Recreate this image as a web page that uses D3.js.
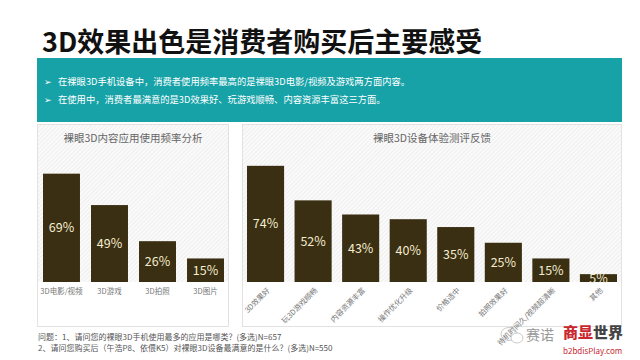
<!DOCTYPE html>
<html><head><meta charset="utf-8">
<script src="https://cdn.jsdelivr.net/npm/d3@7"></script>
<style>body{margin:0;background:#fff}svg{display:block}text{font-family:"Noto Sans CJK SC","Noto Sans",sans-serif}</style>
</head><body>
<svg id="c" width="640" height="360"></svg>
<script>
const title = "3D效果出色是消费者购买后主要感受";
const bullets = ["在裸眼3D手机设备中，消费者使用频率最高的是裸眼3D电影/视频及游戏两方面内容。",
                 "在使用中，消费者最满意的是3D效果好、玩游戏顺畅、内容资源丰富这三方面。"];
const leftTitle = "裸眼3D内容应用使用频率分析";
const leftCats = ["3D电影/视频", "3D游戏", "3D拍照", "3D图片"];
const leftVals = [69, 49, 26, 15];
const rightTitle = "裸眼3D设备体验测评反馈";
const rightCats = ["3D效果好", "玩3D游戏顺畅", "内容资源丰富", "操作优化升级", "价格适中", "拍照效果好", "待机时间久/视频超清晰", "其他"];
const rightVals = [74, 52, 43, 40, 35, 25, 15, 5];
const notes = ["问题：1、请问您的裸眼3D手机使用最多的应用是哪类？(多选)N=657",
               "2、请问您购买后（午浩P8、依偎K5）对裸眼3D设备最满意的是什么？(多选)N=550"];

const svg = d3.select("#c");
const defs = svg.append("defs");
const pat = defs.append("pattern").attr("id","hatch").attr("patternUnits","userSpaceOnUse")
  .attr("width",3).attr("height",3).attr("patternTransform","rotate(45)");
pat.append("rect").attr("width",3).attr("height",3).attr("fill","#fafafa");
pat.append("line").attr("x1",0).attr("y1",0).attr("x2",0).attr("y2",3).attr("stroke","#e4e4e4").attr("stroke-width",1);

// title
svg.append("text").attr("x",42).attr("y",52).attr("font-size",27).attr("font-weight",700)
  .attr("fill","#111").text(title);
// teal box
svg.append("rect").attr("x",37).attr("y",58).attr("width",585).attr("height",64).attr("fill","#17a2a7");
bullets.forEach((b,i)=>{
  const y = 82 + i*18;
  svg.append("text").attr("x",44).attr("y",y).attr("dy","0.35em").attr("font-size",9).attr("fill","#fff").text("➢");
  svg.append("text").attr("x",58).attr("y",y).attr("dy","0.35em").attr("font-size",9.3).attr("fill","#fff").text(b);
});

const y = d3.scaleLinear().domain([0,100]).range([282,125]);
const barColor = "#3a2f12", lblColor = "#f4eccf";

function panel(x0, x1, ttl, cats, vals, rotate, padI, padO) {
  const g = svg.append("g");
  g.append("rect").attr("x",x0).attr("y",124).attr("width",x1-x0).attr("height",y(0)-124).attr("fill","url(#hatch)");
  g.append("rect").attr("x",x0+0.5).attr("y",124.5).attr("width",x1-x0-1).attr("height",326-124)
    .attr("fill","none").attr("stroke","#e2e2e2");
  g.append("text").attr("x",(x0+x1)/2).attr("y",138).attr("dy","0.35em").attr("text-anchor","middle")
    .attr("font-size",10.5).attr("fill","#666").text(ttl);
  const x = d3.scaleBand().domain(cats).range(rotate?[247,617]:[43,224]).paddingInner(padI).paddingOuter(padO);
  g.selectAll(".b").data(vals).join("rect")
    .attr("x",(d,i)=>x(cats[i])).attr("width",x.bandwidth())
    .attr("y",d=>y(d)).attr("height",d=>y(0)-y(d)).attr("fill",barColor);
  g.selectAll(".v").data(vals).join("text")
    .attr("x",(d,i)=>x(cats[i])+x.bandwidth()/2)
    .attr("y",d=> d<10 ? y(d)+4 : (y(d)+y(0))/2).attr("dy","0.35em")
    .attr("text-anchor","middle").attr("font-size",12.5).attr("fill",lblColor).text(d=>d+"%");
  if (!rotate) {
    g.selectAll(".c").data(cats).join("text")
      .attr("x",d=>x(d)+x.bandwidth()/2).attr("y",291).attr("dy","0.35em").attr("text-anchor","middle")
      .attr("font-size",7.5).attr("fill","#777").text(d=>d);
  } else {
    g.selectAll(".c").data(cats).join("text")
      .attr("transform",d=>`translate(${x(d)+x.bandwidth()/2+3},289) rotate(-45)`)
      .attr("text-anchor","end").attr("dy","0.35em")
      .attr("font-size",7.5).attr("fill","#777").text(d=>d);
  }
}
panel(37, 229, leftTitle, leftCats, leftVals, false, 0.23, 0);
panel(242, 622, rightTitle, rightCats, rightVals, true, 0.22, 0);

notes.forEach((n,i)=>{
  svg.append("text").attr("x",38).attr("y",337+i*11.5).attr("dy","0.35em").attr("font-size",8)
    .attr("fill","#555").text(n);
});

// watermark
const wm = svg.append("g");
wm.append("ellipse").attr("cx",509).attr("cy",334).attr("rx",8).attr("ry",6.5).attr("fill","none").attr("stroke","#bbb").attr("stroke-width",0.8);
wm.append("ellipse").attr("cx",517).attr("cy",338).attr("rx",6).attr("ry",5).attr("fill","#fff").attr("stroke","#bbb").attr("stroke-width",0.8);
wm.append("text").attr("x",526).attr("y",335).attr("dy","0.35em").attr("font-size",14).attr("fill","#999").text("赛诺");
wm.append("text").attr("x",563).attr("y",333).attr("dy","0.35em").attr("font-size",15).attr("font-weight",900).attr("fill","#c9282f").text("商显");
wm.append("text").attr("x",593).attr("y",333).attr("dy","0.35em").attr("font-size",15).attr("font-weight",900).attr("fill","#444").text("世界");
wm.append("text").attr("x",563).attr("y",351).attr("dy","0.35em").attr("font-size",8).attr("fill","#c9282f").text("b2bdisPlay.com");
</script>
</body></html>
